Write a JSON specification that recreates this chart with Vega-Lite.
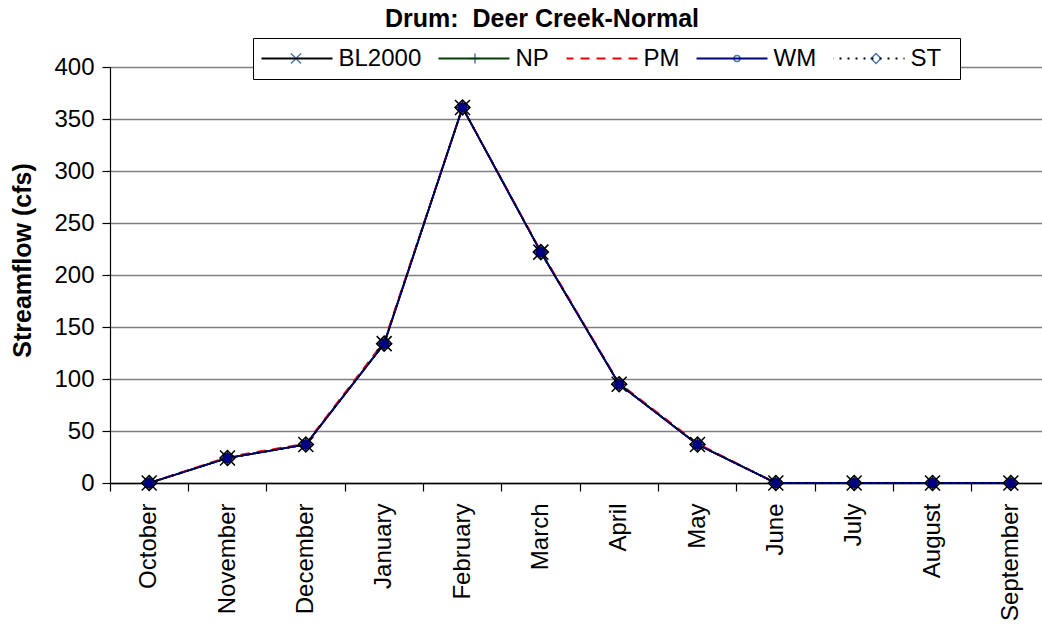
{
  "$schema": "https://vega.github.io/schema/vega-lite/v6.json",
  "autosize": {"type": "none"},
  "width": 932,
  "height": 416,
  "padding": {"left": 110, "top": 67, "right": 0, "bottom": 143},
  "background": "white",
  "config": {
    "font": "Liberation Sans",
    "view": {"stroke": null},
    "axis": {"labelFont": "Liberation Sans", "titleFont": "Liberation Sans", "labelColor": "black", "titleColor": "black"}
  },
  "title": {
    "text": "Drum:\u00a0 Deer Creek-Normal",
    "fontSize": 25,
    "fontWeight": "bold",
    "color": "black",
    "font": "Liberation Sans",
    "anchor": "middle",
    "dx": -34,
    "dy": 24,
    "baseline": "alphabetic",
    "offset": 10
  },
  "data": {
    "values": [
      {"month": "October", "series": "BL2000", "flow": 0},
      {"month": "November", "series": "BL2000", "flow": 24},
      {"month": "December", "series": "BL2000", "flow": 37},
      {"month": "January", "series": "BL2000", "flow": 134},
      {"month": "February", "series": "BL2000", "flow": 361},
      {"month": "March", "series": "BL2000", "flow": 222},
      {"month": "April", "series": "BL2000", "flow": 95},
      {"month": "May", "series": "BL2000", "flow": 37},
      {"month": "June", "series": "BL2000", "flow": 0},
      {"month": "July", "series": "BL2000", "flow": 0},
      {"month": "August", "series": "BL2000", "flow": 0},
      {"month": "September", "series": "BL2000", "flow": 0},
      {"month": "October", "series": "NP", "flow": 0},
      {"month": "November", "series": "NP", "flow": 24},
      {"month": "December", "series": "NP", "flow": 37},
      {"month": "January", "series": "NP", "flow": 134},
      {"month": "February", "series": "NP", "flow": 361},
      {"month": "March", "series": "NP", "flow": 222},
      {"month": "April", "series": "NP", "flow": 95},
      {"month": "May", "series": "NP", "flow": 37},
      {"month": "June", "series": "NP", "flow": 0},
      {"month": "July", "series": "NP", "flow": 0},
      {"month": "August", "series": "NP", "flow": 0},
      {"month": "September", "series": "NP", "flow": 0},
      {"month": "October", "series": "PM", "flow": 0},
      {"month": "November", "series": "PM", "flow": 25},
      {"month": "December", "series": "PM", "flow": 38},
      {"month": "January", "series": "PM", "flow": 136},
      {"month": "February", "series": "PM", "flow": 361},
      {"month": "March", "series": "PM", "flow": 223},
      {"month": "April", "series": "PM", "flow": 96},
      {"month": "May", "series": "PM", "flow": 38},
      {"month": "June", "series": "PM", "flow": 0},
      {"month": "July", "series": "PM", "flow": 0},
      {"month": "August", "series": "PM", "flow": 0},
      {"month": "September", "series": "PM", "flow": 0},
      {"month": "October", "series": "WM", "flow": 0},
      {"month": "November", "series": "WM", "flow": 24},
      {"month": "December", "series": "WM", "flow": 37},
      {"month": "January", "series": "WM", "flow": 134},
      {"month": "February", "series": "WM", "flow": 361},
      {"month": "March", "series": "WM", "flow": 222},
      {"month": "April", "series": "WM", "flow": 95},
      {"month": "May", "series": "WM", "flow": 37},
      {"month": "June", "series": "WM", "flow": 0},
      {"month": "July", "series": "WM", "flow": 0},
      {"month": "August", "series": "WM", "flow": 0},
      {"month": "September", "series": "WM", "flow": 0},
      {"month": "October", "series": "ST", "flow": 0},
      {"month": "November", "series": "ST", "flow": 24},
      {"month": "December", "series": "ST", "flow": 37},
      {"month": "January", "series": "ST", "flow": 134},
      {"month": "February", "series": "ST", "flow": 361},
      {"month": "March", "series": "ST", "flow": 222},
      {"month": "April", "series": "ST", "flow": 95},
      {"month": "May", "series": "ST", "flow": 37},
      {"month": "June", "series": "ST", "flow": 0},
      {"month": "July", "series": "ST", "flow": 0},
      {"month": "August", "series": "ST", "flow": 0},
      {"month": "September", "series": "ST", "flow": 0}
    ]
  },
  "encoding": {
    "x": {
      "field": "month",
      "type": "ordinal",
      "sort": ["October", "November", "December", "January", "February", "March", "April", "May", "June", "July", "August", "September"],
      "scale": {"type": "band", "range": [0, 940], "paddingInner": 0, "paddingOuter": 0},
      "axis": {
        "title": null,
        "bandPosition": 0,
        "grid": false,
        "domainColor": "black",
        "domainWidth": 1.5,
        "tickColor": "black",
        "tickWidth": 1.2,
        "tickSize": 8,
        "labelAngle": -90,
        "labelAlign": "right",
        "labelBaseline": "middle",
        "labelFontSize": 24,
        "labelPadding": 12,
        "labelOverlap": false,
        "labelBound": false
      }
    },
    "y": {
      "field": "flow",
      "type": "quantitative",
      "scale": {"domain": [0, 400], "nice": false, "zero": true},
      "axis": {
        "values": [0, 50, 100, 150, 200, 250, 300, 350, 400],
        "title": "Streamflow (cfs)",
        "titleFontSize": 25,
        "titleFontWeight": "bold",
        "titleAngle": -90,
        "titleAlign": "center",
        "titleBaseline": "middle",
        "titleX": -88,
        "titleY": 193,
        "grid": true,
        "gridColor": "#808080",
        "gridWidth": 1.5,
        "domainColor": "black",
        "domainWidth": 1.2,
        "tickColor": "black",
        "tickWidth": 1.2,
        "tickSize": 8,
        "labelFontSize": 24,
        "labelPadding": 8
      }
    }
  },
  "layer": [
    {
      "mark": {"type": "point", "filled": false, "opacity": 0, "size": 196},
      "encoding": {
        "shape": {
          "field": "series",
          "type": "nominal",
          "scale": {"domain": ["PM", "BL2000", "NP", "WM", "ST"], "range": ["M0,0", "M-1,-1L1,1M-1,1L1,-1", "M0,-1L0,1M-1,0L1,0", "M-0.6,0A0.6,0.6,0,1,0,0.6,0A0.6,0.6,0,1,0,-0.6,0Z", "M0,-1L1,0L0,1L-1,0Z"]},
          "legend": {
            "title": null,
            "values": ["BL2000", "NP", "PM", "WM", "ST"],
            "orient": "none",
            "legendX": 143,
            "legendY": -29,
            "direction": "horizontal",
            "columns": 5,
            "padding": 8.5,
            "strokeColor": "black",
            "fillColor": "white",
            "symbolStrokeWidth": 1.5,
            "symbolOffset": 22.5,
            "labelFontSize": 24,
            "labelColor": "transparent",
            "labelFont": "Liberation Sans",
            "labelOffset": 32.5,
            "columnPadding": 17,
            "encode": {
              "symbols": {
                "update": {
                  "size": {"value": 196},
                  "opacity": {"value": 1},
                  "stroke": {"signal": "datum.value === 'NP' ? '#004000' : datum.value === 'WM' ? '#000080' : '#000000'"},
                  "fill": {"signal": "datum.value === 'WM' ? '#000080' : 'white'"},
                  "fillOpacity": {"signal": "datum.value === 'ST' || datum.value === 'WM' ? 1 : 0"},
                  "strokeDash": {"value": [1, 0]}
                }
              }
            }
          }
        }
      }
    },
    {
      "mark": {"type": "line", "strokeWidth": 1.8, "clip": false},
      "encoding": {
        "color": {
          "field": "series",
          "type": "nominal",
          "scale": {"domain": ["BL2000", "NP", "PM", "WM", "ST"], "range": ["#000000", "#004000", "#FF0000", "#000080", "#000000"]},
          "legend": {
            "title": null,
            "orient": "none",
            "legendX": 151.5,
            "legendY": -20.5,
            "direction": "horizontal",
            "columns": 5,
            "padding": 0,
            "clipHeight": 24,
            "strokeColor": null,
            "fillColor": null,
            "symbolType": "stroke",
            "symbolStrokeWidth": 1.8,
            "symbolOffset": -3,
            "labelFontSize": 24,
            "labelColor": "black",
            "labelFont": "Liberation Sans",
            "labelOffset": 5,
            "columnPadding": 17,
            "encode": {
              "symbols": {
                "update": {
                  "shape": {"value": "stroke"},
                  "size": {"value": 5329}
                }
              }
            }
          }
        },
        "strokeDash": {
          "field": "series",
          "type": "nominal",
          "scale": {"domain": ["BL2000", "NP", "PM", "WM", "ST"], "range": [[1, 0], [1, 0], [9, 7], [1, 0], [2, 6]]},
          "legend": null
        }
      }
    },
    {
      "mark": {"type": "point", "filled": false, "strokeWidth": 1.5, "size": 225, "opacity": 1, "clip": false},
      "encoding": {
        "shape": {
          "field": "series",
          "type": "nominal",
          "legend": null
        },
        "stroke": {
          "field": "series",
          "type": "nominal",
          "scale": {"domain": ["BL2000", "NP", "PM", "WM", "ST"], "range": ["#000000", "#004000", "#FF0000", "#000080", "#000000"]},
          "legend": null
        },
        "fill": {
          "field": "series",
          "type": "nominal",
          "scale": {"domain": ["BL2000", "NP", "PM", "WM", "ST"], "range": ["transparent", "transparent", "transparent", "#000080", "transparent"]},
          "legend": null
        }
      }
    }
  ]
}
